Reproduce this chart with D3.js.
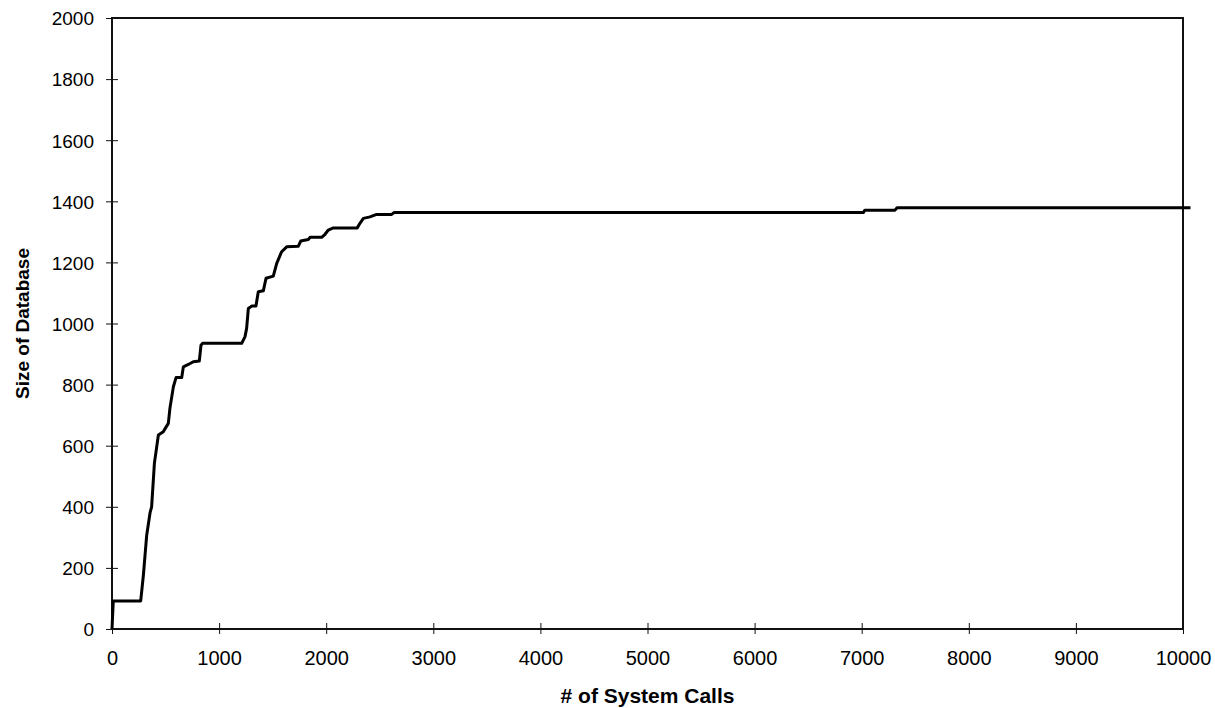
<!DOCTYPE html>
<html>
<head>
<meta charset="utf-8">
<script src="https://cdn.jsdelivr.net/npm/d3@7"></script>
<style>
  body { margin: 0; background: #fff; }
  text { font-family: Arial, "Liberation Sans", Helvetica, sans-serif; fill: #000; }
</style>
</head>
<body>
<div id="chart"></div>
<script>
// data: number of system calls vs database size
const calls = [0, 12, 268, 293, 324, 355, 370, 396, 433, 479, 526, 541, 573, 598, 651, 666, 713, 759, 815, 831, 845,
  1211, 1242, 1257, 1273, 1304, 1344, 1366, 1413, 1438, 1506, 1538, 1584, 1631, 1740, 1762, 1833, 1849, 1958,
  1989, 2020, 2066, 2290, 2315, 2347, 2409, 2471, 2611, 2633, 7015, 7030, 7311, 7330, 10070];
const dbSize = [0, 92, 92, 176, 307, 380, 400, 543, 635, 646, 673, 723, 793, 823, 823, 858, 866, 875, 877, 929, 935,
  935, 957, 984, 1049, 1057, 1057, 1104, 1107, 1148, 1155, 1197, 1235, 1251, 1253, 1270, 1275, 1282, 1282,
  1292, 1306, 1313, 1313, 1328, 1344, 1349, 1357, 1357, 1363, 1363, 1371, 1371, 1379, 1379];
const xTicks = [0, 1000, 2000, 3000, 4000, 5000, 6000, 7000, 8000, 9000, 10000];
const yTicks = [0, 200, 400, 600, 800, 1000, 1200, 1400, 1600, 1800, 2000];
const xTitle = "# of System Calls";
const yTitle = "Size of Database";

const width = 1215, height = 708;
const margin = { top: 18, right: 32, bottom: 79, left: 112 };
const innerW = width - margin.left - margin.right,
      innerH = height - margin.top - margin.bottom;

const points = calls.map((c, i) => ({ x: c, y: dbSize[i] }));

var x = d3.scaleLinear().domain([0, 10000]).range([0, innerW]);
var y = d3.scaleLinear().domain([0, 2000]).range([innerH, 0]);

var svg = d3.select("#chart").append("svg")
    .attr("width", width)
    .attr("height", height)
  .append("g")
    .attr("transform", "translate(" + margin.left + "," + margin.top + ")");

// plot frame
svg.append("rect")
    .attr("width", innerW)
    .attr("height", innerH)
    .attr("fill", "none")
    .attr("stroke", "#111")
    .attr("stroke-width", 2);

// x axis, ticks cross the axis line
var gx = svg.append("g")
    .attr("transform", "translate(0," + innerH + ")")
    .call(d3.axisBottom(x).tickValues(xTicks).tickFormat(d3.format("d")).tickSizeOuter(0));
gx.select(".domain").remove();
gx.selectAll(".tick line").attr("y1", -6).attr("y2", 5).attr("stroke", "#111");
gx.selectAll(".tick text").attr("y", 36).attr("dy", 0).attr("font-size", 20);

// y axis
var gy = svg.append("g")
    .call(d3.axisLeft(y).tickValues(yTicks).tickFormat(d3.format("d")).tickSizeOuter(0));
gy.select(".domain").remove();
gy.selectAll(".tick line").attr("x1", -6).attr("x2", 6).attr("stroke", "#111");
gy.selectAll(".tick text").attr("x", -18).attr("dy", "0.36em").attr("font-size", 19);
gy.selectAll("text").attr("font-family", null);
gx.selectAll("text").attr("font-family", null);

// the series
var line = d3.line()
    .x(d => x(d.x))
    .y(d => y(d.y));

svg.append("path")
    .datum(points)
    .attr("fill", "none")
    .attr("stroke", "#000")
    .attr("stroke-width", 3)
    .attr("stroke-linejoin", "round")
    .attr("d", line);

// axis titles
svg.append("text")
    .attr("x", innerW / 2)
    .attr("y", innerH + 74)
    .attr("text-anchor", "middle")
    .attr("font-weight", "bold")
    .attr("font-size", 21)
    .text(xTitle);

svg.append("text")
    .attr("transform", "translate(" + (-83) + "," + (innerH / 2) + ") rotate(-90)")
    .attr("text-anchor", "middle")
    .attr("font-weight", "bold")
    .attr("font-size", 19)
    .text(yTitle);
</script>
</body>
</html>
